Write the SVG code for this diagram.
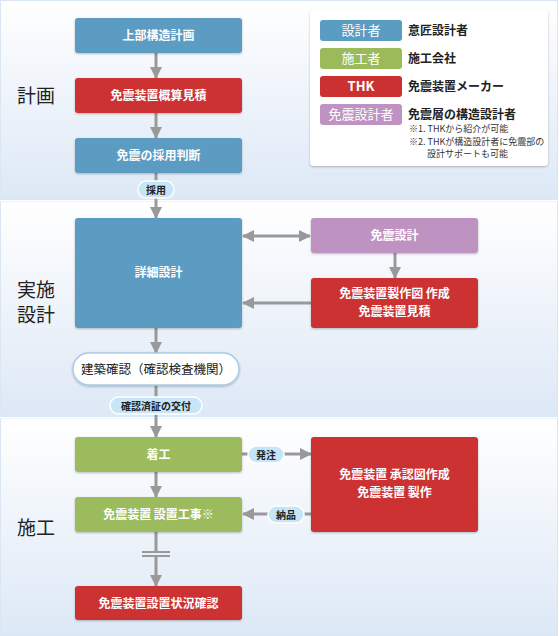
<svg xmlns="http://www.w3.org/2000/svg" width="559" height="636" viewBox="0 0 559 636">
<defs>
<linearGradient id="bg" x1="0" y1="0" x2="0" y2="1">
<stop offset="0" stop-color="#ffffff"/>
<stop offset="1" stop-color="#dde8f6"/>
</linearGradient>
<marker id="ah" viewBox="0 0 12 12" refX="11" refY="6" markerWidth="12" markerHeight="12" markerUnits="userSpaceOnUse" orient="auto-start-reverse">
<path d="M0,0 L12,6 L0,12 Z" fill="#999"/>
</marker>
<filter id="sh" x="-10%" y="-10%" width="120%" height="130%">
<feDropShadow dx="0" dy="1" stdDeviation="1" flood-color="#000" flood-opacity="0.25"/>
</filter>
</defs>
<style>
.sec{fill:url(#bg);stroke:#dbe6f3;stroke-width:1}
.box{filter:url(#sh)}
.blue{fill:#5b9cc3}
.red{fill:#cc3131}
.green{fill:#9bbb5b}
.purple{fill:#bf93c1}
.t{font-family:"Noto Sans CJK JP","Liberation Sans",sans-serif;font-weight:bold;font-size:12px;fill:#fff;text-anchor:middle}
.lbl{font-family:"Noto Sans CJK JP","Liberation Sans",sans-serif;font-size:19px;fill:#222}
.pill{fill:#c6e5f7;stroke:#fff;stroke-width:1.5}
.pt{font-family:"Noto Sans CJK JP","Liberation Sans",sans-serif;font-weight:bold;font-size:10px;fill:#222;text-anchor:middle}
.ln{stroke:#999;stroke-width:3;fill:none}
.lt{font-family:"Noto Sans CJK JP","Liberation Sans",sans-serif;font-weight:bold;font-size:12px;fill:#222}
.nt{font-family:"Noto Sans CJK JP","Liberation Sans",sans-serif;font-size:9px;fill:#333}
</style>
<rect class="sec" x="0.5" y="0.5" width="557" height="199"/>
<rect class="sec" x="0.5" y="201.5" width="557" height="215"/>
<rect class="sec" x="0.5" y="418.5" width="557" height="217"/>
<rect x="0" y="200" width="559" height="1.5" fill="#fff"/>
<rect x="0" y="417" width="559" height="1.5" fill="#fff"/>

<g id="section-labels">
<text class="lbl" x="17" y="103">計画</text>
<text class="lbl" x="17" y="297">実施</text>
<text class="lbl" x="17" y="322">設計</text>
<text class="lbl" x="17" y="535">施工</text>
</g>

<g id="connectors">
<line class="ln" x1="156" y1="53" x2="156" y2="78" marker-end="url(#ah)"/>
<line class="ln" x1="156" y1="113" x2="156" y2="138" marker-end="url(#ah)"/>
<line class="ln" x1="156" y1="173" x2="156" y2="218" marker-end="url(#ah)"/>
<line class="ln" x1="243" y1="236" x2="310" y2="236" marker-start="url(#ah)" marker-end="url(#ah)"/>
<line class="ln" x1="395" y1="253" x2="395" y2="278" marker-end="url(#ah)"/>
<line class="ln" x1="311" y1="303" x2="243" y2="303" marker-end="url(#ah)"/>
<line class="ln" x1="156" y1="328" x2="156" y2="353" marker-end="url(#ah)"/>
<line class="ln" x1="156" y1="385" x2="156" y2="437" marker-end="url(#ah)"/>
<line class="ln" x1="242" y1="454" x2="311" y2="454" marker-end="url(#ah)"/>
<line class="ln" x1="311" y1="514" x2="243" y2="514" marker-end="url(#ah)"/>
<line class="ln" x1="156" y1="472" x2="156" y2="497" marker-end="url(#ah)"/>
<line class="ln" x1="156" y1="532" x2="156" y2="551"/>
<line class="ln" x1="156" y1="557" x2="156" y2="586" marker-end="url(#ah)"/>
<line x1="142" y1="552" x2="170" y2="552" stroke="#999" stroke-width="2"/>
<line x1="142" y1="556" x2="170" y2="556" stroke="#999" stroke-width="2"/>
<g id="edge-labels">
<rect class="pill" x="138" y="181" width="36" height="17" rx="8.5"/>
<text class="pt" x="156" y="193.5">採用</text>
<rect class="pill" x="110" y="397" width="92" height="17" rx="8.5"/>
<text class="pt" x="156" y="409.5">確認済証の交付</text>
<rect class="pill" x="248" y="446" width="36" height="17" rx="8.5"/>
<text class="pt" x="266" y="458.5">発注</text>
<rect class="pill" x="268" y="506" width="36" height="17" rx="8.5"/>
<text class="pt" x="286" y="518.5">納品</text>
</g>
</g>

<g id="n-jobu">
<rect class="box blue" x="75" y="18" width="167" height="35" rx="3"/>
<text class="t" x="158.5" y="40">上部構造計画</text>
</g>
<g id="n-gaisan">
<rect class="box red" x="75" y="78" width="167" height="35" rx="3"/>
<text class="t" x="158.5" y="100">免震装置概算見積</text>
</g>
<g id="n-saiyo">
<rect class="box blue" x="75" y="138" width="167" height="35" rx="3"/>
<text class="t" x="158.5" y="160">免震の採用判断</text>
</g>
<g id="n-shosai">
<rect class="box blue" x="75" y="218" width="167" height="110" rx="3"/>
<text class="t" x="158.5" y="277">詳細設計</text>
</g>
<g id="n-menshin-sekkei">
<rect class="box purple" x="311" y="218" width="167" height="35" rx="3"/>
<text class="t" x="394.5" y="240">免震設計</text>
</g>
<g id="n-seisakuzu">
<rect class="box red" x="311" y="278" width="167" height="50" rx="3"/>
<text class="t" x="394.5" y="298">免震装置製作図 作成</text>
<text class="t" x="394.5" y="316">免震装置見積</text>
</g>
<g id="n-kenchiku">
<rect x="73" y="353" width="166" height="32" rx="16" fill="#fff" stroke="#a9cbe6" stroke-width="1.5" filter="url(#sh)"/>
<text class="t" x="156" y="373.5" style="fill:#222;font-weight:normal;font-size:12.5px">建築確認（確認検査機関）</text>
</g>
<g id="n-chakko">
<rect class="box green" x="75" y="437" width="167" height="35" rx="3"/>
<text class="t" x="158.5" y="459">着工</text>
</g>
<g id="n-shoninzu">
<rect class="box red" x="311" y="437" width="167" height="95" rx="3"/>
<text class="t" x="394.5" y="479">免震装置 承認図作成</text>
<text class="t" x="394.5" y="497">免震装置 製作</text>
</g>
<g id="n-setchi">
<rect class="box green" x="75" y="497" width="167" height="35" rx="3"/>
<text class="t" x="158.5" y="519">免震装置 設置工事※</text>
</g>
<g id="n-kakunin">
<rect class="box red" x="75" y="586" width="167" height="34" rx="3"/>
<text class="t" x="158.5" y="607.5">免震装置設置状況確認</text>
</g>

<g id="legend">
<rect x="310" y="10" width="238" height="156" rx="4" fill="#fff" filter="url(#sh)"/>
<rect class="blue" x="320" y="20" width="82" height="21" rx="3"/>
<text class="t" x="361" y="35" style="font-weight:normal;font-size:13px">設計者</text>
<text class="lt" x="408" y="35">意匠設計者</text>
<rect class="green" x="320" y="48" width="82" height="21" rx="3"/>
<text class="t" x="361" y="63" style="font-weight:normal;font-size:13px">施工者</text>
<text class="lt" x="408" y="63">施工会社</text>
<rect class="red" x="320" y="76" width="82" height="21" rx="3"/>
<text class="t" x="361" y="91" style="font-size:13px">THK</text>
<text class="lt" x="408" y="91">免震装置メーカー</text>
<rect class="purple" x="320" y="104" width="82" height="21" rx="3"/>
<text class="t" x="361" y="119" style="font-weight:normal;font-size:13px">免震設計者</text>
<text class="lt" x="408" y="119">免震層の構造設計者</text>
<text class="nt" x="409" y="132">※1. THKから紹介が可能</text>
<text class="nt" x="409" y="145">※2. THKが構造設計者に免震部の</text>
<text class="nt" x="427" y="157">設計サポートも可能</text>
</g>
</svg>
